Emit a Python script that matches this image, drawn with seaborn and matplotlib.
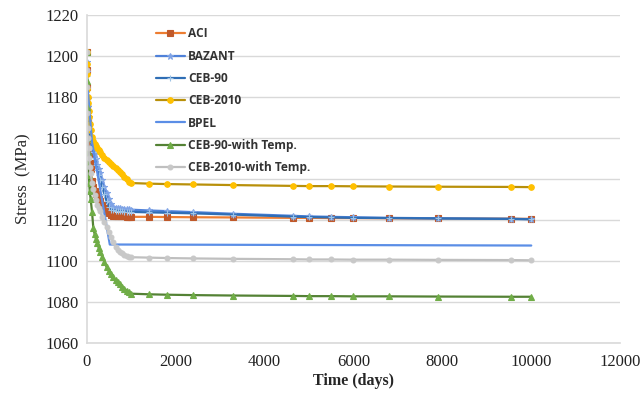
import numpy as np
import pandas as pd
import matplotlib
matplotlib.use("Agg")
import matplotlib.pyplot as plt
import seaborn as sns

# ── Data ─────────────────────────────────────────────────────────────────────
time_days = [0, 3, 7, 14, 21, 28, 42, 56, 70, 90, 120, 150, 180, 210, 240, 270, 300, 350, 400,
             450, 500, 550, 600, 650, 700, 750, 800, 850, 900, 950, 1000,
             1400, 1800, 2400, 3300, 4650, 5000, 5500, 6000, 6800, 7900, 9550, 10000]

aci = [1202, 1193, 1185, 1174, 1168, 1163, 1157, 1152, 1148, 1145, 1139, 1136, 1134, 1132.5,
       1131, 1130, 1129, 1127.5, 1126, 1124.5, 1123.5, 1122.5, 1122, 1122, 1121.8, 1121.8,
       1121.7, 1121.7, 1121.6, 1121.6, 1121.5, 1121.5, 1121.4, 1121.3, 1121.2, 1121, 1121,
       1120.9, 1120.9, 1120.8, 1120.7, 1120.6, 1120.5]

bazant = [1202, 1197, 1192, 1184, 1179, 1175, 1170, 1166, 1163, 1161, 1158, 1155, 1152, 1149.5,
          1147, 1145, 1143, 1139.5, 1136, 1133, 1130, 1128, 1126.5, 1126, 1125.8, 1125.6,
          1125.5, 1125.4, 1125.3, 1125.2, 1125, 1124.6, 1124.3, 1123.8, 1123, 1122, 1121.7,
          1121.5, 1121.3, 1121, 1120.8, 1120.5, 1120.4]

ceb90 = [1202, 1196, 1190, 1181, 1176, 1172, 1168, 1164, 1161, 1159, 1156, 1153, 1150, 1147,
         1144.5, 1142, 1139.5, 1136, 1132.5, 1129, 1126.5, 1125, 1124.6, 1124.5, 1124.4,
         1124.3, 1124.2, 1124.1, 1124, 1124, 1123.9, 1123.7, 1123.5, 1123.2, 1122.6, 1121.6,
         1121.4, 1121.2, 1121, 1120.9, 1120.7, 1120.5, 1120.3]

ceb2010 = [1202, 1196, 1191, 1184, 1180, 1177, 1173, 1170, 1167, 1164, 1160.5, 1158.5, 1157,
           1156, 1155, 1154, 1153, 1151.5, 1150.3, 1149.2, 1148.2, 1147.2, 1146.2, 1145.2,
           1144.2, 1143.2, 1142.2, 1141, 1139.8, 1138.6, 1138, 1137.7, 1137.5, 1137.3, 1137,
           1136.6, 1136.5, 1136.5, 1136.4, 1136.3, 1136.2, 1136.1, 1136]

ceb90_temp = [1202, 1188, 1175, 1160, 1153, 1148, 1142, 1138, 1134, 1130, 1124, 1116, 1113,
              1110.5, 1108.5, 1106.5, 1104.5, 1102, 1099.5, 1097, 1095, 1093.5, 1092, 1090.5,
              1089.5, 1088.5, 1087.5, 1086.5, 1085.5, 1084.8, 1084, 1083.7, 1083.5, 1083.3,
              1083.1, 1082.9, 1082.8, 1082.8, 1082.7, 1082.7, 1082.6, 1082.5, 1082.5]

ceb2010_temp = [1202, 1193, 1185, 1172, 1165, 1160, 1155, 1150, 1146, 1143, 1138, 1135, 1132,
                1129.5, 1127.5, 1126, 1124.5, 1121.5, 1119, 1116.5, 1114, 1111.5, 1109, 1107,
                1105.5, 1104.5, 1103.8, 1103, 1102.5, 1102, 1101.8, 1101.6, 1101.4, 1101.2,
                1101, 1100.8, 1100.7, 1100.7, 1100.6, 1100.6, 1100.5, 1100.4, 1100.3]

bpel_time = [0, 120, 520, 10000]
bpel = [1190, 1158, 1108, 1107.5]

y_ticks = [1060, 1080, 1100, 1120, 1140, 1160, 1180, 1200, 1220]
x_ticks = [0, 2000, 4000, 6000, 8000, 10000, 12000]

# ── Styling per series ───────────────────────────────────────────────────────
series = [
    ("ACI", time_days, aci, dict(color="#ED7D31", marker="s", ms=4.5,
                                  mfc="#C0592A", mec="#C0592A")),
    ("BAZANT", time_days, bazant, dict(color="#4F81D9", marker="*", ms=5,
                                        mfc="#7FA3E6", mec="#7FA3E6")),
    ("CEB-90", time_days, ceb90, dict(color="#2F6EB5", marker="+", ms=5,
                                       mfc="#9DC3E6", mec="#9DC3E6")),
    ("CEB-2010", time_days, ceb2010, dict(color="#B8900A", marker="o", ms=4,
                                           mfc="#FFC000", mec="#FFC000")),
    ("BPEL", bpel_time, bpel, dict(color="#5B8EE6", marker=None)),
    ("CEB-90-with Temp.", time_days, ceb90_temp, dict(color="#548235", marker="^", ms=4,
                                                       mfc="#70AD47", mec="#70AD47")),
    ("CEB-2010-with Temp.", time_days, ceb2010_temp, dict(color="#BFBFBF", marker="o", ms=3.5,
                                                           mfc="#C8C8C8", mec="#C8C8C8")),
]

sns.set_theme(style="white")
plt.rcParams["font.family"] = ["Liberation Serif", "DejaVu Serif"]

fig, ax = plt.subplots(figsize=(6.42, 3.95), dpi=100)
fig.subplots_adjust(left=0.135, right=0.966, top=0.962, bottom=0.132)

for name, t, vals, st in series:
    df = pd.DataFrame({"t": t, "s": vals})
    sns.lineplot(data=df, x="t", y="s", ax=ax, label=name, lw=1.6, sort=False,
                 estimator=None, markeredgewidth=0.8, **st)

ax.set_xlim(0, 12000)
ax.set_ylim(1060, 1220)
ax.set_xticks(x_ticks)
ax.set_yticks(y_ticks)
ax.tick_params(axis="both", labelsize=12, length=0, colors="#222222")
ax.tick_params(axis="x", pad=8)
ax.tick_params(axis="y", pad=6)
ax.yaxis.grid(True, color="#D9D9D9", lw=1)
ax.xaxis.grid(False)
for side in ["top", "right"]:
    ax.spines[side].set_visible(False)
for side in ["left", "bottom"]:
    ax.spines[side].set_color("#D9D9D9")
    ax.spines[side].set_linewidth(1.2)

ax.set_xlabel("Time (days)", fontsize=11.5, fontweight="bold", labelpad=2)
ax.set_ylabel("Stress  (MPa)", fontsize=12, labelpad=10)

leg = ax.legend(loc="upper left", bbox_to_anchor=(0.11, 0.995), frameon=False,
                handlelength=2.4, labelspacing=0.78, handletextpad=0.3,
                prop={"family": ["Open Sans", "DejaVu Sans"], "size": 8.6, "weight": "bold"})
for txt in leg.get_texts():
    txt.set_color("#333333")

fig.savefig("out.png", dpi=100)
